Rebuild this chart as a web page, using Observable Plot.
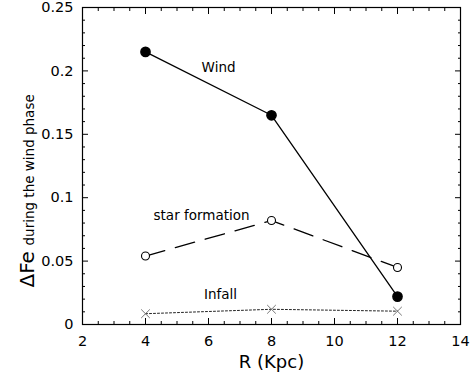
<!DOCTYPE html>
<html><head><meta charset="utf-8">
<script src="https://cdn.jsdelivr.net/npm/d3@7"></script>
<script src="https://cdn.jsdelivr.net/npm/@observablehq/plot@0.6"></script>
<style>html,body{margin:0;padding:0;background:#fff;} svg{display:block;}</style>
</head><body><div id="chart"></div>
<script>
// Data
const radii = [4, 8, 12];
const windValues = [0.215, 0.165, 0.022];
const starFormationValues = [0.054, 0.082, 0.045];
const infallValues = [0.0085, 0.012, 0.0105];

// Annotations (data coordinates)
const seriesLabels = ["Wind", "star formation", "Infall"];
const seriesLabelX = [6.32, 5.78, 6.38];
const seriesLabelY = [0.2027, 0.086, 0.0237];

// Ticks
const xMajorTicks = [2, 4, 6, 8, 10, 12, 14];
const xMinorTicks = [2.5, 3, 3.5, 4.5, 5, 5.5, 6.5, 7, 7.5, 8.5, 9, 9.5, 10.5, 11, 11.5, 12.5, 13, 13.5];
const yMajorTicks = [0, 0.05, 0.1, 0.15, 0.2, 0.25];
const yMinorTicks = [0.01, 0.02, 0.03, 0.04, 0.06, 0.07, 0.08, 0.09, 0.11, 0.12, 0.13, 0.14, 0.16, 0.17, 0.18, 0.19, 0.21, 0.22, 0.23, 0.24];

const xLabel = "R (Kpc)";
const yLabelMain = "\u0394Fe";
const yLabelSub = "during the wind phase";

const toRows = (vals) => radii.map((r, i) => ({r, v: vals[i]}));
const wind = toRows(windValues);
const starFormation = toRows(starFormationValues);
const infall = toRows(infallValues);

const blank = () => "";
const tickFs = 14.5;

const chart = Plot.plot({
  width: 474,
  height: 376,
  marginLeft: 82,
  marginRight: 14,
  marginTop: 7,
  marginBottom: 52,
  style: {fontFamily: "DejaVu Sans", background: "#fff", color: "#000", overflow: "visible"},
  x: {domain: [2, 14]},
  y: {domain: [0, 0.25]},
  marks: [
    Plot.axisX(xMajorTicks, {anchor: "bottom", tickSize: -6, tickPadding: 17, fontSize: tickFs, label: null, tickFormat: d => String(d)}),
    Plot.axisX(xMinorTicks, {anchor: "bottom", tickSize: -3, tickFormat: blank, label: null}),
    Plot.axisX(xMajorTicks, {anchor: "top", tickSize: -6, tickFormat: blank, label: null}),
    Plot.axisX(xMinorTicks, {anchor: "top", tickSize: -3, tickFormat: blank, label: null}),
    Plot.axisY(yMajorTicks, {anchor: "left", tickSize: -6, tickPadding: 15, fontSize: tickFs, label: null, tickFormat: d => String(d)}),
    Plot.axisY(yMinorTicks, {anchor: "left", tickSize: -3, tickFormat: blank, label: null}),
    Plot.axisY(yMajorTicks, {anchor: "right", tickSize: -6, tickFormat: blank, label: null}),
    Plot.axisY(yMinorTicks, {anchor: "right", tickSize: -3, tickFormat: blank, label: null}),
    Plot.frame({stroke: "#000", strokeWidth: 1.2}),

    Plot.line(infall, {x: "r", y: "v", stroke: "#222", strokeWidth: 1, strokeDasharray: "2,2"}),
    Plot.dot(infall, {x: "r", y: "v", symbol: "times", r: 4, stroke: "#777", strokeWidth: 1}),

    Plot.line(starFormation, {x: "r", y: "v", stroke: "#000", strokeWidth: 1.3, strokeDasharray: "20,11"}),
    Plot.dot(starFormation, {x: "r", y: "v", r: 4, fill: "#fff", stroke: "#000", strokeWidth: 1.1}),

    Plot.line(wind, {x: "r", y: "v", stroke: "#000", strokeWidth: 1.3}),
    Plot.dot(wind, {x: "r", y: "v", r: 4.6, fill: "#000", stroke: "#000"}),

    Plot.text(seriesLabels, {x: seriesLabelX, y: seriesLabelY, text: d => d, fontSize: 13.5, fill: "#000"}),

    Plot.text([xLabel], {frameAnchor: "bottom", text: d => d, dy: 38, fontSize: 18, lineAnchor: "middle", fill: "#000"}),
    Plot.text([yLabelMain], {frameAnchor: "left", text: d => d, rotate: -90, textAnchor: "start", lineAnchor: "bottom", dx: -49, dy: 121.5, fontSize: 20, fill: "#000"}),
    Plot.text([yLabelSub], {frameAnchor: "left", text: d => d, rotate: -90, textAnchor: "start", lineAnchor: "bottom", dx: -49, dy: 79.5, fontSize: 13.5, fill: "#000"})
  ]
});
document.getElementById("chart").appendChild(chart);
</script>
</body></html>
